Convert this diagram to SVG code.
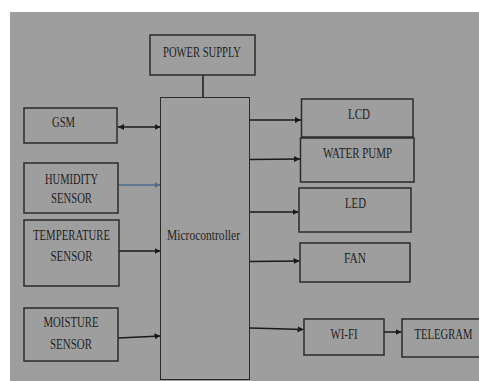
<svg xmlns="http://www.w3.org/2000/svg" width="479" height="381" viewBox="0 0 479 381">
<defs>
<style>
.box{fill:none;stroke:#2b2b2b;stroke-width:1.5}
.mc{fill:none;stroke:#2b2b2b;stroke-width:1}
.t{font-family:"Liberation Serif","Times New Roman",serif;font-size:15px;fill:#1e1e1e;text-anchor:middle}
.c{stroke:#1a1a1a;stroke-width:1.5;fill:none}
.cb{stroke:#4f6b8c;stroke-width:1.5;fill:none}
</style>
<marker id="ah" viewBox="0 0 10 10" refX="10" refY="5" markerWidth="6" markerHeight="6" markerUnits="userSpaceOnUse" orient="auto-start-reverse">
<path d="M0,0 L10,5 L0,10 z" fill="#1a1a1a"/>
</marker>
<marker id="ahb" viewBox="0 0 10 10" refX="10" refY="5" markerWidth="6" markerHeight="6" markerUnits="userSpaceOnUse" orient="auto">
<path d="M0,0 L10,5 L0,10 z" fill="#4f6b8c"/>
</marker>
</defs>
<rect x="0" y="0" width="479" height="381" fill="#ffffff"/>
<rect x="10" y="12" width="469" height="369" fill="#9e9e9e"/>

<g id="connectors">
<line class="c" x1="203" y1="75" x2="203" y2="97"/>
<line class="c" x1="118" y1="127" x2="160.5" y2="127" marker-start="url(#ah)" marker-end="url(#ah)"/>
<line class="cb" x1="118" y1="185" x2="160.5" y2="185" marker-end="url(#ahb)"/>
<line class="c" x1="119" y1="251" x2="160.5" y2="251" marker-end="url(#ah)"/>
<line class="c" x1="118" y1="338" x2="160.5" y2="336" marker-end="url(#ah)"/>
<line class="c" x1="250" y1="120" x2="301" y2="120" marker-end="url(#ah)"/>
<line class="c" x1="250" y1="159.5" x2="300" y2="159" marker-end="url(#ah)"/>
<line class="c" x1="250" y1="212" x2="298.5" y2="212" marker-end="url(#ah)"/>
<line class="c" x1="250" y1="261.5" x2="299.5" y2="261" marker-end="url(#ah)"/>
<line class="c" x1="250" y1="328" x2="303.5" y2="329.5" marker-end="url(#ah)"/>
<line class="c" x1="384" y1="332" x2="401.5" y2="332" marker-end="url(#ah)"/>
</g>

<g id="power-supply">
<rect class="box" x="150" y="35" width="105" height="40"/>
<text class="t" x="202" y="57" textLength="78" lengthAdjust="spacingAndGlyphs">POWER SUPPLY</text>
</g>
<g id="microcontroller">
<rect class="mc" x="160.5" y="97.5" width="89" height="282"/>
<text class="t" x="203.5" y="240" textLength="73" lengthAdjust="spacingAndGlyphs">Microcontroller</text>
</g>
<g id="gsm">
<rect class="box" x="24" y="108" width="93" height="35"/>
<text class="t" x="63.5" y="127" textLength="23" lengthAdjust="spacingAndGlyphs">GSM</text>
</g>
<g id="humidity-sensor">
<rect class="box" x="24" y="163" width="94" height="50"/>
<text class="t" x="71.5" y="184" textLength="53" lengthAdjust="spacingAndGlyphs">HUMIDITY</text>
<text class="t" x="71.5" y="203" textLength="41" lengthAdjust="spacingAndGlyphs">SENSOR</text>
</g>
<g id="temperature-sensor">
<rect class="box" x="24" y="220" width="95" height="66"/>
<text class="t" x="71.5" y="240" textLength="77" lengthAdjust="spacingAndGlyphs">TEMPERATURE</text>
<text class="t" x="71.5" y="261" textLength="42" lengthAdjust="spacingAndGlyphs">SENSOR</text>
</g>
<g id="moisture-sensor">
<rect class="box" x="24" y="308" width="94" height="53"/>
<text class="t" x="71" y="327" textLength="55" lengthAdjust="spacingAndGlyphs">MOISTURE</text>
<text class="t" x="71" y="349" textLength="42" lengthAdjust="spacingAndGlyphs">SENSOR</text>
</g>
<g id="lcd">
<rect class="box" x="301.5" y="99" width="111.5" height="38"/>
<text class="t" x="359" y="119" textLength="22" lengthAdjust="spacingAndGlyphs">LCD</text>
</g>
<g id="water-pump">
<rect class="box" x="300.5" y="138" width="113.5" height="44"/>
<text class="t" x="357.5" y="158" textLength="69" lengthAdjust="spacingAndGlyphs">WATER PUMP</text>
</g>
<g id="led">
<rect class="box" x="299" y="188" width="112" height="44"/>
<text class="t" x="355.5" y="208" textLength="21" lengthAdjust="spacingAndGlyphs">LED</text>
</g>
<g id="fan">
<rect class="box" x="300" y="243" width="110" height="39"/>
<text class="t" x="355" y="263" textLength="22" lengthAdjust="spacingAndGlyphs">FAN</text>
</g>
<g id="wi-fi">
<rect class="box" x="304" y="319" width="80" height="36"/>
<text class="t" x="344" y="339" textLength="27" lengthAdjust="spacingAndGlyphs">WI-FI</text>
</g>
<g id="telegram">
<rect class="box" x="402" y="319" width="80" height="38"/>
<text class="t" transform="translate(443.5,339) scale(0.71,1)" x="0" y="0">TELEGRAM</text>
</g>
</svg>
